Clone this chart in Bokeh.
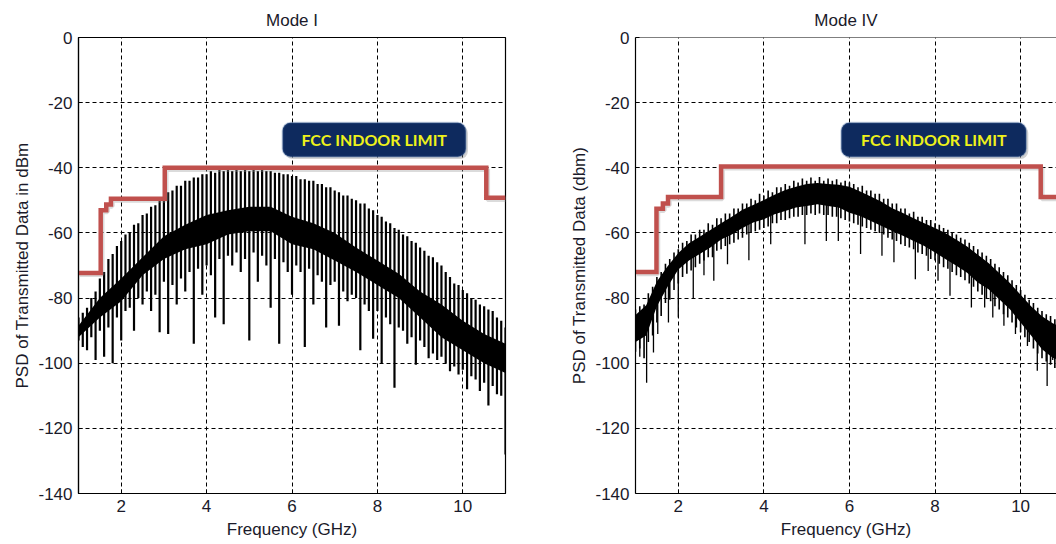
from bokeh.plotting import figure
from bokeh.layouts import row
from bokeh.models import FixedTicker, BoxAnnotation, Label, Span, Range1d, PrintfTickFormatter
from bokeh.embed import file_html
from bokeh.resources import INLINE

# ---------------- data ----------------
x_ticks = [2, 4, 6, 8, 10]
y_ticks = [0, -20, -40, -60, -80, -100, -120, -140]

# FCC indoor mask, Mode I panel
mask_freq_l = [1.0, 1.52, 1.52, 1.65, 1.65, 1.76, 1.76, 3.02, 3.02, 10.55, 10.55, 11.0]
mask_db_l = [-72.3, -72.3, -53.0, -53.0, -51.3, -51.3, -49.5, -49.5, -40.0, -40.0, -49.2, -49.2]
# FCC indoor mask, Mode IV panel
mask_freq_r = [1.0, 1.49, 1.49, 1.64, 1.64, 1.76, 1.76, 3.0, 3.0, 10.47, 10.47, 11.0]
mask_db_r = [-72.0, -72.0, -52.6, -52.6, -51.0, -51.0, -49.0, -49.0, -39.6, -39.6, -49.0, -49.0]

# Mode I: comb spikes every 0.1 GHz (top and bottom of each spike, dBm)
spike_top_l = [-86, -84.5, -83, -80, -78, -74, -72, -68, -66.5, -64,
               -62.5, -60.5, -60, -57.5, -57, -54.5, -54, -52, -51.5, -50,
               -49, -47.5, -47, -45.5, -45.5, -44, -44, -43, -43, -42,
               -42, -41, -41.5, -40.5, -41, -40.5, -41, -40.5, -41, -40.5,
               -41, -40.5, -41, -40.5, -41, -41, -41.5, -41.5, -42, -42,
               -42.5, -42.5, -43.5, -43.5, -44, -44, -45, -45, -46, -46,
               -47, -47.5, -48.5, -48.5, -49.5, -50, -51, -51, -52.5, -53,
               -54.5, -55, -56.5, -57, -58.5, -59, -60.5, -61, -62.5, -63,
               -64.5, -65.5, -67, -67.5, -69, -70, -72, -73.5, -75.5, -76,
               -77.5, -78.5, -80, -80.5, -82, -82.5, -83.5, -84, -86, -87, -89]
spike_bot_l = [-93, -95, -96, -92, -99, -90, -98, -89, -100, -86,
               -93, -84, -83, -90, -80, -82, -78, -84, -79, -90.5,
               -75, -91, -76, -82, -74, -78, -72, -94, -71, -79,
               -70, -73, -86, -68, -88, -67, -70, -66, -72, -68,
               -93, -66, -75, -67, -70, -83, -68, -94, -69, -72,
               -79, -70, -72, -95, -71, -82, -73, -75, -89, -76,
               -75, -88.5, -78, -81, -79, -80, -96, -82, -84, -92.5,
               -84, -100, -86, -88, -107.5, -89, -90, -94, -92, -100.5,
               -93, -95, -98.5, -97, -99, -98, -100, -102.5, -101, -103.5,
               -102, -108, -104, -105, -108.5, -106, -113, -107, -109.5, -110, -128]
spike_freq_l = [round(1.0 + 0.1 * i, 1) for i in range(len(spike_top_l))]

# Mode I: dense core of the spectrum (every 0.5 GHz)
band_freq_l = [1.0, 1.5, 2.0, 2.5, 3.0, 3.5, 4.0, 4.5, 5.0, 5.5, 6.0,
               6.5, 7.0, 7.5, 8.0, 8.5, 9.0, 9.5, 10.0, 10.5, 11.0]
band_top_l = [-88.5, -80, -74, -67.5, -61, -57.5, -54.5, -53, -52, -52, -55,
              -57, -60, -64.5, -68.5, -72.5, -78, -82, -87, -91, -94]
band_bot_l = [-92, -86, -81, -73, -68, -65, -63.5, -60.5, -59.5, -59.5, -63.5,
              -65, -68.5, -72, -76, -80, -86, -92, -96, -100, -103]

# Mode IV: solid core of the noisy spectrum (every 0.25 GHz)
band_freq_r = [round(1.0 + 0.25 * i, 2) for i in range(41)]
band_top_r = [-85.2, -82.2, -74.9, -70.2, -66.2, -63.2, -61.2, -59.1, -57, -55,
              -52.9, -51.4, -49.9, -48.3, -46.8, -45.8, -45, -44.7, -45, -45.2,
              -45.8, -47.3, -48.8, -50.4, -52.4, -53.9, -55.5, -57, -58.5, -60.1,
              -62.1, -64.2, -66.7, -69.2, -72.3, -75.4, -79, -82.6, -85.6, -87.7, -89.2]
band_bot_r = [-93.5, -91.5, -82.5, -76.5, -71.2, -68.5, -66.5, -64.5, -62, -60.5,
              -58.5, -56.8, -55.8, -54.3, -53.3, -52.2, -51.7, -51.2, -51.7, -52.2,
              -53.8, -54.8, -56.3, -57.9, -59.4, -60.9, -62.5, -64, -66, -68.1,
              -70.1, -72.2, -75.2, -77.3, -80.4, -83.4, -87.5, -91.6, -95.7, -98.3, -99.5]
# Mode IV: fringe spikes every 0.1 GHz (upper and lower ends, dBm)
fringe_top_r = [-83.5, -82.5, -82, -78.5, -76.5, -73.5, -72, -69.5, -68, -66,
                -65, -63, -62.5, -60.5, -60.5, -59, -59, -57, -57.5, -55.5,
                -55.5, -54, -54, -52.5, -52.5, -51, -51, -49.5, -50, -48,
                -48.5, -47, -47.5, -46, -46, -45, -45.5, -44, -44.5, -43.3,
                -44, -43, -44, -42.8, -44, -43.3, -44, -43.5, -44.5, -44,
                -44.5, -45, -46, -45.5, -47, -47, -48, -48, -49.5, -49.5,
                -51, -51, -52.5, -52.5, -54, -53.5, -55, -55, -56, -56,
                -57, -57.5, -58.5, -59, -60, -60.5, -61.5, -62, -63, -64,
                -65, -66, -67, -68, -69.5, -70.5, -72, -73, -74.5, -76,
                -77.5, -79, -80.5, -81.5, -83, -84, -85, -85.5, -86.5]
fringe_bot_r = [-96.5, -95.5, -98.5, -93.5, -91.5, -87.5, -85.5, -81.5, -80.5, -77.5,
                -75.5, -73.5, -72.5, -71.5, -70.5, -69.5, -68.5, -67.5, -67.5, -65.5,
                -65, -64, -63.5, -63, -62, -61.5, -60.5, -60, -59.5, -59,
                -58.5, -58, -57, -57, -56, -56, -55.5, -55, -55, -54.5,
                -54.5, -54, -54.5, -54, -54.5, -54.5, -55, -55, -55.5, -56,
                -56.5, -57, -57.5, -58, -58.5, -59, -59.5, -60, -60.5, -61.5,
                -62, -62.5, -63.5, -64, -64.5, -65, -66, -66.5, -67, -68,
                -68.5, -69.5, -70.5, -71, -72, -73, -73.5, -74.5, -75.5, -76.5,
                -78, -79, -80, -81, -82.5, -83.5, -85, -86, -87.5, -89,
                -90.5, -92, -93.5, -95.5, -97, -98.5, -99.5, -100.5, -101.5]
fringe_freq_r = [round(1.0 + 0.1 * i, 1) for i in range(len(fringe_top_r))]
# Mode IV: deep downward spikes
dip_freq_r = [1.1, 1.26, 1.42, 1.52, 1.77, 2.0, 2.35, 2.6, 2.83, 3.15, 3.65, 4.16,
              4.96, 5.46, 5.74, 6.26, 6.76, 7.04, 7.54, 7.84, 8.07, 8.35, 8.85,
              9.16, 9.35, 9.61, 9.88, 10.16, 10.39, 10.62, 10.75]
dip_low_r = [-98, -106, -96.7, -91, -87.5, -86, -80.3, -73, -74.7, -69.6, -68.4, -63.5,
             -63.5, -62.5, -62.5, -66.5, -67, -69, -74.2, -71.7, -74.7, -79.3, -82.9,
             -82.9, -86, -88.5, -91, -94.7, -102.3, -107, -99]
dip_high_r = [-88, -86, -81, -78, -73, -68, -64.5, -62.5, -60.5, -58, -55, -52,
              -48, -48, -48.5, -51, -54, -55.5, -59, -60.5, -62, -64.5, -68.5,
              -72, -74, -77, -81, -85, -88.5, -91.5, -93]

FONT = "Liberation Sans"
TXT = "#1a1a2a"
MASK = "#c0504d"


def base_fig(width, title, ylabel, x_end, left_border, right_border, outline):
    p = figure(width=width, height=544, output_backend="svg", toolbar_location=None,
               x_range=Range1d(1, x_end), y_range=Range1d(-140, 0),
               min_border_left=left_border, min_border_right=right_border,
               min_border_top=37, min_border_bottom=51, title=title)
    p.title.align = "center"
    p.title.text_font = FONT
    p.title.text_font_size = "17px"
    p.title.text_font_style = "normal"
    p.title.text_color = TXT
    p.title.standoff = 16
    p.background_fill_color = "white"
    p.border_fill_color = "white"
    if outline:
        p.outline_line_color = "black"
        p.outline_line_width = 1.2
    else:
        p.outline_line_color = None
        p.add_layout(Span(location=0, dimension="width", line_color="black", line_width=1.2))
    for ax in (p.xaxis[0], p.yaxis[0]):
        ax.axis_line_color = "black"
        ax.axis_line_width = 1.2
        ax.major_tick_in = 4
        ax.major_tick_out = 0
        ax.minor_tick_in = 0
        ax.minor_tick_out = 0
        ax.major_label_text_font = FONT
        ax.major_label_text_font_size = "17px"
        ax.major_label_text_color = TXT
        ax.axis_label_text_font = FONT
        ax.axis_label_text_font_size = "17px"
        ax.axis_label_text_font_style = "normal"
        ax.axis_label_text_color = TXT
    p.xaxis.ticker = FixedTicker(ticks=x_ticks)
    p.yaxis.ticker = FixedTicker(ticks=y_ticks)
    p.xaxis.formatter = PrintfTickFormatter(format="%d")
    p.yaxis.formatter = PrintfTickFormatter(format="%d")
    p.xaxis.axis_label = "Frequency (GHz)"
    p.yaxis.axis_label = ylabel
    p.xaxis.major_label_standoff = 6
    p.yaxis.major_label_standoff = 6
    p.xaxis.axis_label_standoff = 5
    p.yaxis.axis_label_standoff = 3
    for g in (p.xgrid[0], p.ygrid[0]):
        g.grid_line_color = "black"
        g.grid_line_dash = "4 3"
        g.grid_line_width = 1
    p.xgrid.ticker = FixedTicker(ticks=x_ticks)
    p.ygrid.ticker = FixedTicker(ticks=y_ticks)
    return p


def fcc_box(p, left, right):
    p.add_layout(BoxAnnotation(left=left + 0.05, right=right + 0.05, bottom=-37.3, top=-26.9,
                               fill_color="#7f7f7f", fill_alpha=0.35, line_color=None,
                               border_radius=8))
    p.add_layout(BoxAnnotation(left=left, right=right, bottom=-36.6, top=-26.2,
                               fill_color="#0e2a5e", fill_alpha=1.0, line_color="#3f679f",
                               line_width=2, border_radius=8))
    p.add_layout(Label(x=(left + right) / 2, y=-31.4, text="FCC INDOOR LIMIT",
                       text_align="center", text_baseline="middle", text_font="Lato",
                       text_font_style="bold", text_font_size="16px", text_color="#eef21a"))


def mask_line(p, fx, fy):
    p.line([f + 0.03 for f in fx], [v - 0.5 for v in fy], line_color="#999999",
           line_alpha=0.35, line_width=5)
    p.line(fx, fy, line_color=MASK, line_width=4.5, line_join="miter")


# ---------------- Mode I ----------------
p1 = base_fig(556, "Mode I", "PSD of Transmitted Data in dBm", 11.0, 78, 51, True)
p1.varea(x=band_freq_l, y1=band_bot_l, y2=band_top_l, fill_color="black")
p1.segment(x0=spike_freq_l, y0=spike_bot_l, x1=spike_freq_l, y1=spike_top_l,
           line_color="black", line_width=2.2)
mask_line(p1, mask_freq_l, mask_db_l)
fcc_box(p1, 5.78, 10.07)

# ---------------- Mode IV ----------------
p2 = base_fig(500, "Mode IV", "PSD of Transmitted Data (dbm)", 1 + (1056 - 634.5) / 42.84, 79, 0, False)
p2.varea(x=band_freq_r, y1=band_bot_r, y2=band_top_r, fill_color="black")
p2.segment(x0=fringe_freq_r, y0=fringe_bot_r, x1=fringe_freq_r, y1=fringe_top_r,
           line_color="black", line_width=1.6)
p2.segment(x0=dip_freq_r, y0=dip_low_r, x1=dip_freq_r, y1=dip_high_r,
           line_color="black", line_width=1.3)
mask_line(p2, mask_freq_r, mask_db_r)
fcc_box(p2, 5.81, 10.13)

layout = row(p1, p2, spacing=0)
open("out.html", "w").write(file_html(layout, INLINE))
